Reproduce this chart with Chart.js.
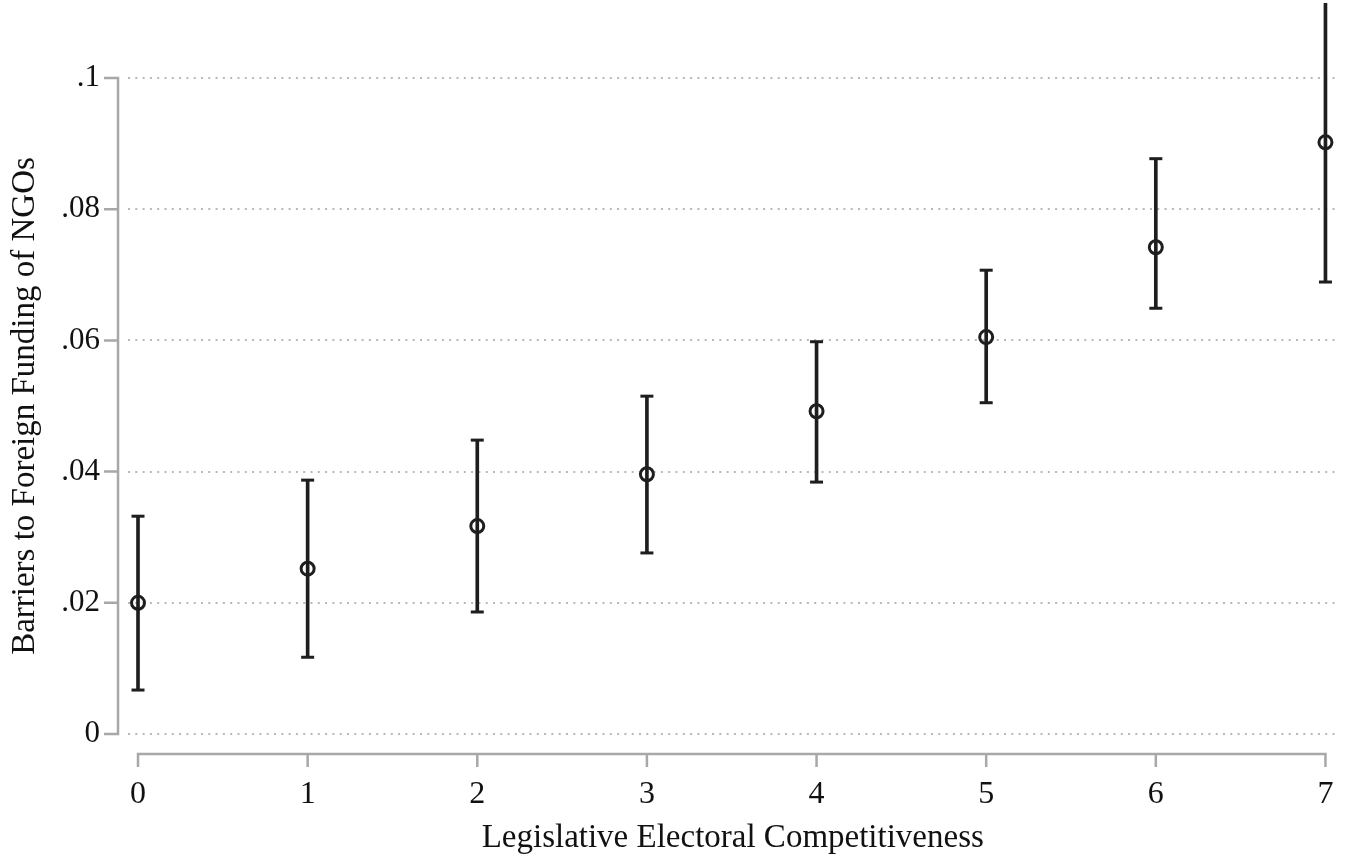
<!DOCTYPE html>
<html>
<head>
<meta charset="utf-8">
<script src="https://cdn.jsdelivr.net/npm/chart.js@4"></script>
<style>
html,body{margin:0;padding:0;background:#fff;}
#wrap{width:1347px;height:857px;position:relative;}
</style>
</head>
<body>
<div id="wrap"><canvas id="c"></canvas></div>
<script>
// ---- data ----
const categories = [0, 1, 2, 3, 4, 5, 6, 7];
const estimates  = [0.0200, 0.0252, 0.0317, 0.0396, 0.0492, 0.0605, 0.0742, 0.0902];
const upperCI    = [0.0332, 0.0387, 0.0448, 0.0515, 0.0598, 0.0707, 0.0877, 0.1114];
const lowerCI    = [0.0067, 0.0117, 0.0186, 0.0276, 0.0384, 0.0505, 0.0649, 0.0689];
const yTicks      = [0, 0.02, 0.04, 0.06, 0.08, 0.1];
const yTickLabels = ['0', '.02', '.04', '.06', '.08', '.1'];
const xTicks      = [0, 1, 2, 3, 4, 5, 6, 7];
const xTickLabels = ['0', '1', '2', '3', '4', '5', '6', '7'];
const xTitle = 'Legislative Electoral Competitiveness';
const yTitle = 'Barriers to Foreign Funding of NGOs';

const INK = '#1e1e1e';
const TXT = '#111111';
const AXIS = '#a8a8a8';
const FONT = 'Liberation Serif';

const whiskers = categories.map((c, i) => ({x: c, y: [lowerCI[i], upperCI[i]]}));
const caps = [];
categories.forEach((c, i) => { caps.push({x: c, y: lowerCI[i]}); caps.push({x: c, y: upperCI[i]}); });
const pts = categories.map((c, i) => ({x: c, y: estimates[i]}));

// offset axis lines (Stata style)
const offsetAxes = {
  id: 'offsetAxes',
  afterDraw(chart) {
    const {ctx} = chart;
    const xs = chart.scales.x, ys = chart.scales.y;
    const x0 = xs.getPixelForValue(xTicks[0]);
    const x1 = xs.getPixelForValue(xTicks[xTicks.length - 1]);
    const yb = ys.getPixelForValue(yTicks[0]);
    const yt = ys.getPixelForValue(yTicks[yTicks.length - 1]);
    const axX = x0 - 20, axY = yb + 20;
    ctx.save();
    ctx.strokeStyle = AXIS;
    ctx.lineWidth = 2.5;
    ctx.lineCap = 'butt';
    ctx.beginPath();
    ctx.moveTo(axX, yt); ctx.lineTo(axX, yb);
    yTicks.forEach(v => { const p = ys.getPixelForValue(v); ctx.moveTo(axX + 1.25, p); ctx.lineTo(axX - 14, p); });
    ctx.moveTo(x0, axY); ctx.lineTo(x1, axY);
    xTicks.forEach(v => { const p = xs.getPixelForValue(v); ctx.moveTo(p, axY - 1.25); ctx.lineTo(p, axY + 13); });
    ctx.stroke();
    ctx.restore();
  }
};

new Chart(document.getElementById('c'), {
  type: 'scatter',
  data: {
    datasets: [
      {type: 'bar', data: whiskers, backgroundColor: INK, borderWidth: 0, barThickness: 3, clip: false, order: 3},
      {type: 'scatter', data: caps, pointStyle: 'line', pointRadius: 6.5, borderColor: INK, borderWidth: 3, clip: false, order: 2},
      {type: 'scatter', data: pts, pointStyle: 'circle', pointRadius: 6.5, borderColor: INK, backgroundColor: 'rgba(0,0,0,0)', borderWidth: 3, clip: false, order: 1}
    ]
  },
  options: {
    responsive: true,
    maintainAspectRatio: false,
    animation: false,
    events: [],
    layout: {padding: {top: 78, right: 0, bottom: 0, left: 0}},
    plugins: {legend: {display: false}, tooltip: {enabled: false}},
    scales: {
      x: {
        type: 'linear',
        offset: false,
        min: -0.059, max: 7.071,
        afterBuildTicks(s) { s.ticks = xTicks.map(v => ({value: v})); },
        afterFit(s) { s.height = 123; s.paddingLeft = 0; s.paddingRight = 0; },
        grid: {display: false, drawTicks: false, offset: false},
        border: {display: false},
        ticks: {
          color: TXT, padding: 41,
          font: {family: FONT, size: 32},
          callback: (v) => { const i = xTicks.indexOf(v); return i >= 0 ? xTickLabels[i] : ''; },
          maxRotation: 0, autoSkip: false
        },
        title: {display: true, text: xTitle, color: TXT, font: {family: FONT, size: 33, lineHeight: 1}, padding: {top: 0, bottom: 2}}
      },
      y: {
        type: 'linear',
        min: 0, max: 0.1,
        afterBuildTicks(s) { s.ticks = yTicks.map(v => ({value: v})); },
        afterFit(s) { s.width = 128; s.paddingTop = 0; s.paddingBottom = 0; },
        grid: {color: '#b8b8b8', lineWidth: 2, drawTicks: false},
        border: {display: false, dash: [2, 5.3]},
        ticks: {
          color: TXT, padding: 28,
          font: {family: FONT, size: 31},
          callback: (v) => { const i = yTicks.findIndex(t => Math.abs(t - v) < 1e-9); return i >= 0 ? yTickLabels[i] : ''; },
          autoSkip: false
        },
        title: {display: true, text: yTitle, color: TXT, font: {family: FONT, size: 33, lineHeight: 1}, padding: {top: 9, bottom: 0}}
      }
    }
  },
  plugins: [offsetAxes]
});
</script>
</body>
</html>
